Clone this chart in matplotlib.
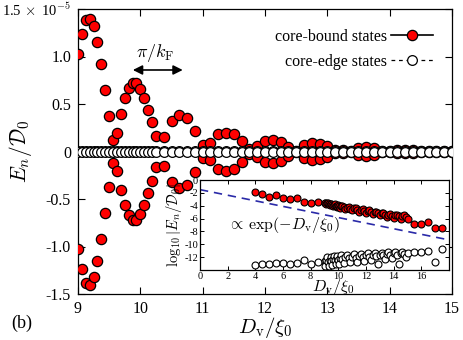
import numpy as np
import matplotlib
matplotlib.use("Agg")
import matplotlib.pyplot as plt
from matplotlib.lines import Line2D

plt.rcParams['font.family'] = ['Liberation Serif', 'DejaVu Serif']
plt.rcParams['mathtext.fontset'] = 'cm'

# ---------------- data ----------------
# main panel grid (D_v / xi_0)
x_fine = np.arange(9.0, 10.25 + 1e-9, 1 / 16)      # 21 points
x_coarse = np.arange(10.375, 15.0 + 1e-9, 1 / 8)   # 38 points
x_main = np.concatenate([x_fine, x_coarse])

# |E_n / D_0| of core-bound states, units of 1e-5
bound_fine = [1.03, 1.24, 1.38, 1.40, 1.32, 1.15, 0.92, 0.65, 0.37, 0.12, 0.20,
              0.40, 0.56, 0.67, 0.72, 0.72, 0.66, 0.56, 0.44, 0.31, 0.16]
bound_coarse = [0.15, 0.32, 0.38, 0.35, 0.22, 0.07, 0.09, 0.18, 0.20, 0.18,
                0.11, 0.03, 0.06, 0.11, 0.12, 0.10, 0.05, 0.01,
                0.065, 0.09, 0.08, 0.055, 0.02, 0.02, 0.01, 0.04,
                0.045, 0.035, 0.01, 0.005, 0.02, 0.02, 0.015, 0.003,
                0.005, 0.005, 0.003, 0.002]
bound_main = np.array(bound_fine + bound_coarse)

# inset: log10 |E_n/D_0|
inset_x_left = [4.0, 4.5, 5.0, 5.5, 6.0, 6.5, 7.0, 7.5, 8.0, 8.5]
inset_bound_left = [-1.8, -2.2, -2.7, -2.4, -2.85, -3.0, -2.85, -3.4, -3.65, -3.4]
inset_edge_left = [-13.2, -13.1, -13.05, -12.9, -12.9, -13.0, -12.9, -12.45, -13.0, -12.7]

inset_bound_mid = [-3.5, -3.6, -3.7, -3.6, -3.5, -3.7, -3.9, -3.8, -3.7, -3.9, -4.1,
                   -3.9, -3.8, -4.0, -4.2, -4.0, -3.9, -4.1, -4.3, -4.1, -4.0,
                   -4.2, -4.5, -4.3, -4.2, -4.5, -4.7, -4.4, -4.3, -4.6, -4.9,
                   -4.6, -4.5, -4.8, -5.1, -4.8, -4.7, -5.0, -5.3, -5.0, -4.9,
                   -5.2, -5.5, -5.2, -5.1, -5.4, -5.8, -5.4, -5.3, -5.6, -5.9,
                   -5.5, -5.4, -5.6, -6.0, -5.6, -5.5, -5.8, -6.0]
inset_edge_mid = [-12.6, -13.3, -12.4, -12.0, -12.7, -13.4, -12.5, -11.9, -12.6, -13.2, -12.3,
                  -11.8, -12.5, -13.1, -12.2, -11.8, -12.4, -13.0, -12.1, -11.7, -12.3,
                  -12.9, -12.0, -11.6, -12.2, -12.8, -11.9, -11.5, -12.1, -12.7, -11.8,
                  -11.5, -12.0, -12.6, -11.7, -11.4, -11.9, -12.5, -11.6, -11.3, -11.8,
                  -13.1, -11.6, -11.3, -11.7, -12.3, -11.5, -11.2, -11.6, -12.2, -11.4,
                  -11.2, -11.6, -13.1, -11.4, -11.2, -11.5, -12.0, -11.3]

inset_x_right = [15.5, 16.0, 16.5, 17.0, 17.5]
inset_bound_right = [-6.85, -6.85, -6.6, -7.4, -7.4]
inset_edge_right = [-11.25, -11.25, -11.0, -12.8, -10.75]

# core-edge states in main panel (units of 1e-5): negligible
edge_main = 10.0 ** np.array(inset_edge_mid) / 1e-5

fit_x = [0.0, 18.0]
fit_intercept = -1.5

xticks = [9, 10, 11, 12, 13, 14, 15]
yticks = [-1.5, -1.0, -0.5, 0.0, 0.5, 1.0, 1.5]
yticklabels = ['-1.5', '-1.0', '-0.5', '0', '0.5', '1.0', r'1.5$\,\times\,$10$^{-5}$']
inset_xticks = [0, 2, 4, 6, 8, 10, 12, 14, 16]
inset_yticks = [0, -2, -4, -6, -8, -10, -12]

# ---------------- figure ----------------
W, H = 463, 340
fig = plt.figure(figsize=(W / 100, H / 100), dpi=100)

def fx(px):
    return px / W

def fy(py):
    return 1 - py / H

ax = fig.add_axes([fx(78), fy(294), fx(452) - fx(78), fy(9) - fy(294)])
red_kw = dict(ls='none', marker='o', ms=7.4, mfc='red', mec='black', mew=0.9)
open_kw = dict(ls='none', marker='o', ms=7.0, mfc='white', mec='black', mew=0.9)
ax.plot(x_main, bound_main, zorder=3, **red_kw)
ax.plot(x_main, -bound_main, zorder=3, **red_kw)
ax.plot(x_main, edge_main, zorder=4, **open_kw)
ax.plot(x_main, -edge_main, zorder=4, **open_kw)

ax.set_xlim(9, 15)
ax.set_ylim(-1.5, 1.5)
ax.set_xticks(xticks)
ax.set_xticklabels([str(t) for t in xticks])
ax.set_yticks(yticks)
ax.set_yticklabels(yticklabels)
ax.tick_params(direction='in', top=True, right=True, length=5, width=0.8,
               labelsize=11.5, pad=5)
ax.get_yticklabels()[-1].set_fontsize(10.5)
for s in ax.spines.values():
    s.set_linewidth(0.9)

ax.set_xlabel(r'$D_{\rm v}/\xi_0$', fontsize=15, va='center')
ax.xaxis.set_label_coords(0.5, (294 - 328) / 285)
ax.set_ylabel(r'$E_n/\mathcal{D}_0$', fontsize=15.5, va='center')
ax.yaxis.set_label_coords((20 - 78) / 374, 0.5)

ax.annotate('', xy=(9.88, 0.858), xytext=(10.68, 0.858),
            arrowprops=dict(arrowstyle='<|-|>', color='black', lw=1.2,
                            mutation_scale=14, shrinkA=0, shrinkB=0))
ax.text(10.235, 1.04, r'$\pi/k_{\rm F}$', fontsize=13, ha='center', va='center')

handles = [Line2D([], [], color='black', lw=1.2, marker='o', ms=7.4, mfc='red',
                  mec='black', mew=0.9),
           Line2D([], [], color='black', lw=0.9, ls=(0, (3, 3)), marker='o', ms=7.0,
                  mfc='white', mec='black', mew=0.9)]
fig.legend(handles, ['core-bound states', 'core-edge states'], loc='upper right',
           bbox_to_anchor=(fx(433), fy(29)), bbox_transform=fig.transFigure,
           frameon=False, markerfirst=False, fontsize=11.5, handlelength=2.6,
           handletextpad=0.3, labelspacing=0.55, borderpad=0, borderaxespad=0)

fig.text(fx(22), fy(323), '(b)', fontsize=13, ha='center', va='center')

# ---------------- inset ----------------
axi = fig.add_axes([fx(200), fy(270), fx(449) - fx(200), fy(180) - fy(270)], zorder=5)
axi.set_facecolor('white')
slope = -np.log10(np.e)
axi.plot(fit_x, [fit_intercept + slope * v for v in fit_x], color='#2a2aa8',
         lw=1.2, ls=(0, (5, 3.5)), zorder=2)
ired = dict(ls='none', marker='o', ms=5.0, mfc='red', mec='black', mew=0.8)
iopen = dict(ls='none', marker='o', ms=5.0, mfc='white', mec='black', mew=0.8)
axi.plot(inset_x_left, inset_bound_left, zorder=3, **ired)
axi.plot(x_main, inset_bound_mid, zorder=3, **ired)
axi.plot(inset_x_right, inset_bound_right, zorder=3, **ired)
axi.plot(inset_x_left, inset_edge_left, zorder=3, **iopen)
axi.plot(x_main, inset_edge_mid, zorder=3, **iopen)
axi.plot(inset_x_right, inset_edge_right, zorder=3, **iopen)

axi.set_xlim(0, 18)
axi.set_ylim(-14, 0)
axi.set_xticks(inset_xticks)
axi.set_xticklabels([str(t) for t in inset_xticks])
axi.set_yticks(inset_yticks)
axi.set_yticklabels([str(t) for t in inset_yticks])
axi.tick_params(direction='in', top=True, right=True, length=3, width=0.7,
                labelsize=7.5, pad=1.5)
for s in axi.spines.values():
    s.set_linewidth(0.9)
axi.text(2.0, -7.0, r'$\propto\,\exp(-D_{\rm v}/\xi_0)$', fontsize=11.5,
         ha='left', va='center')
axi.set_xlabel(r'$D_{\rm v}/\xi_0$', fontsize=11.5, va='center')
axi.xaxis.set_label_coords((333 - 200) / 249, (270 - 287) / 90)
axi.set_ylabel(r'$\log_{10}|E_n/\mathcal{D}_0|$', fontsize=10.5, va='center')
axi.yaxis.set_label_coords((174 - 200) / 249, 0.5)

fig.savefig('out.png', dpi=100)
